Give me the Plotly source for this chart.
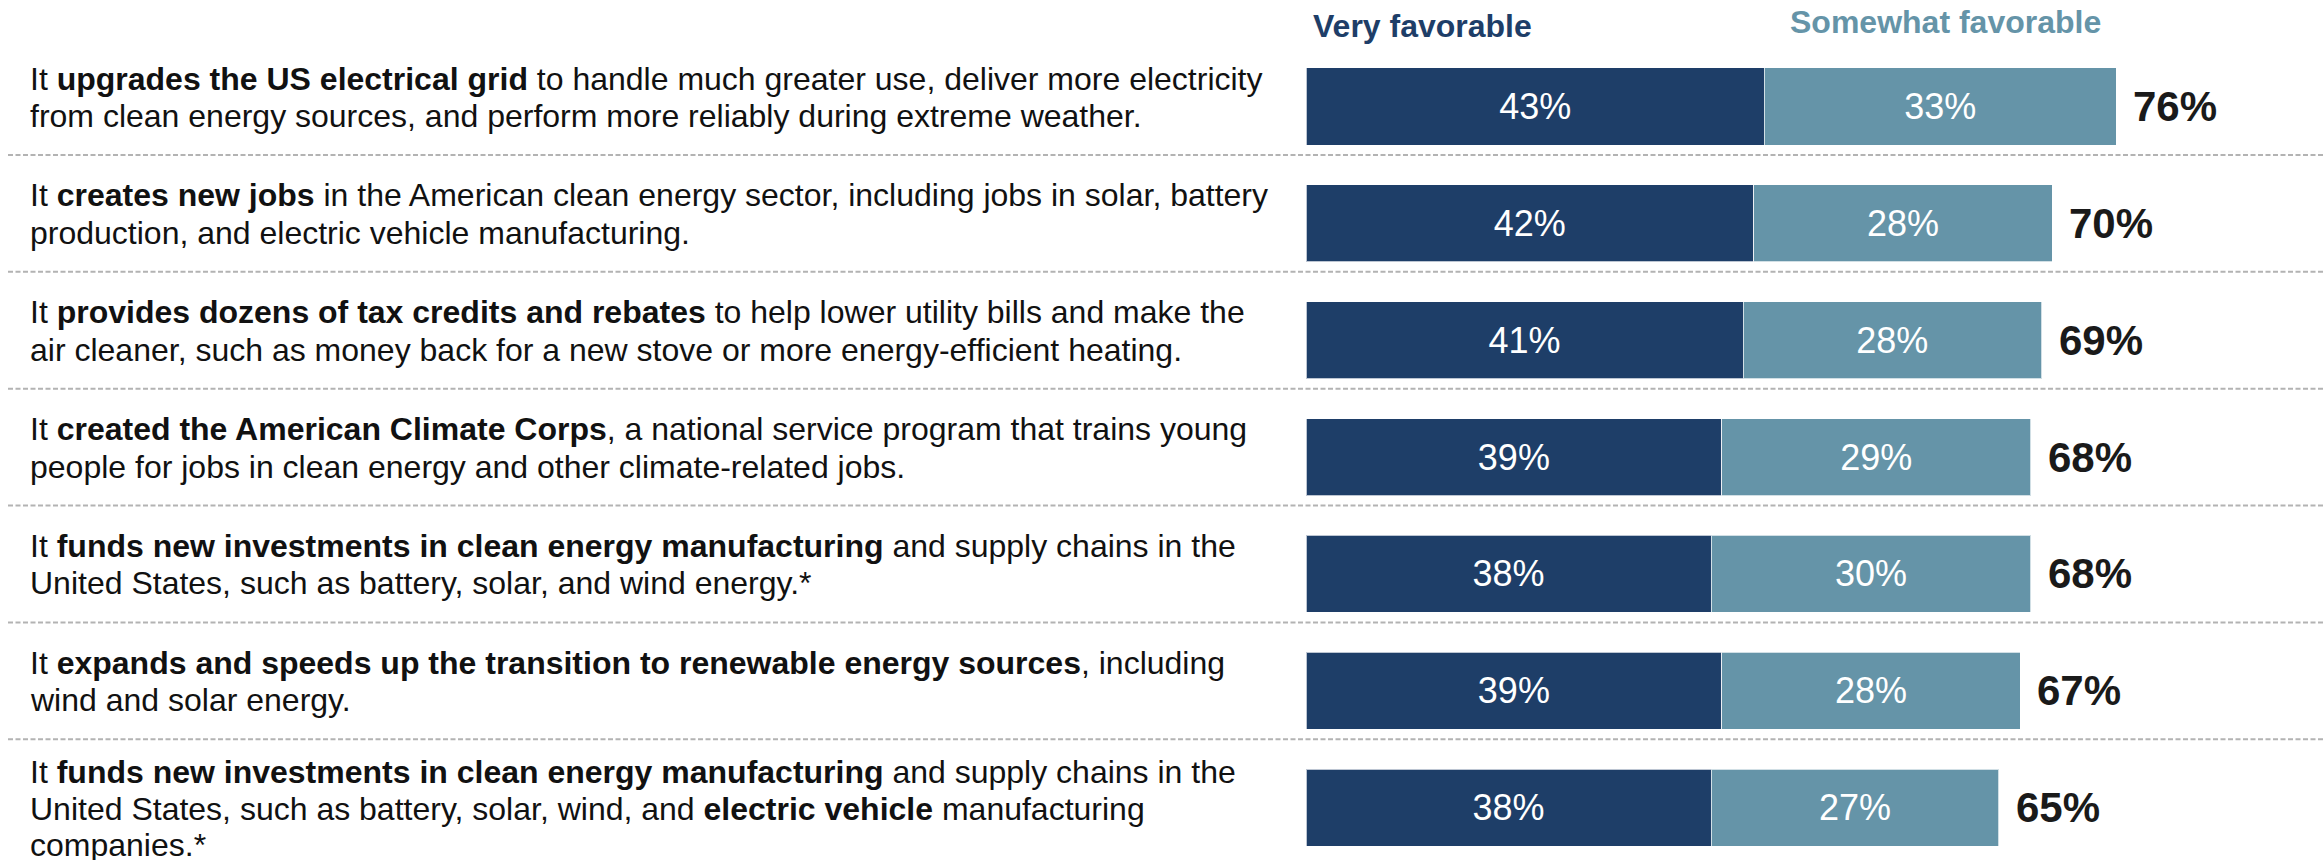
import plotly.graph_objects as go

# Statements (one string per rendered line) and favorability shares
statements = [
    ["It <b>upgrades the US electrical grid</b> to handle much greater use, deliver more electricity",
     "from clean energy sources, and perform more reliably during extreme weather."],
    ["It <b>creates new jobs</b> in the American clean energy sector, including jobs in solar, battery",
     "production, and electric vehicle manufacturing."],
    ["It <b>provides dozens of tax credits and rebates</b> to help lower utility bills and make the",
     "air cleaner, such as money back for a new stove or more energy-efficient heating."],
    ["It <b>created the American Climate Corps</b>, a national service program that trains young",
     "people for jobs in clean energy and other climate-related jobs."],
    ["It <b>funds new investments in clean energy manufacturing</b> and supply chains in the",
     "United States, such as battery, solar, and wind energy.*"],
    ["It <b>expands and speeds up the transition to renewable energy sources</b>, including",
     "wind and solar energy."],
    ["It <b>funds new investments in clean energy manufacturing</b> and supply chains in the",
     "United States, such as battery, solar, wind, and <b>electric vehicle</b> manufacturing",
     "companies.*"],
]
very_favorable = [43, 42, 41, 39, 38, 39, 38]
somewhat_favorable = [33, 28, 28, 29, 30, 28, 27]
series_names = ["Very favorable", "Somewhat favorable"]

totals = [v + s for v, s in zip(very_favorable, somewhat_favorable)]
rows = list(range(len(statements)))

W, H = 2323, 860
FONT = "Liberation Sans, Arial, Helvetica, sans-serif"
DARK = "#1e3e68"
LIGHT = "#6594a8"

fig = go.Figure()
fig.add_trace(go.Bar(
    y=rows, x=very_favorable, orientation="h", name=series_names[0],
    marker=dict(color=DARK, line=dict(color="rgba(255,255,255,0.7)", width=1)),
    width=0.659,
    text=[f"{v}%" for v in very_favorable], textposition="inside",
    insidetextanchor="middle", constraintext="none",
    textfont=dict(family=FONT, size=36, color="white"),
    hoverinfo="skip",
))
fig.add_trace(go.Bar(
    y=rows, x=somewhat_favorable, orientation="h", name=series_names[1],
    marker=dict(color=LIGHT, line=dict(color="rgba(255,255,255,0.7)", width=1)),
    width=0.659,
    text=[f"{v}%" for v in somewhat_favorable], textposition="inside",
    insidetextanchor="middle", constraintext="none",
    textfont=dict(family=FONT, size=36, color="white"),
    hoverinfo="skip",
))

annotations = []

# Totals to the right of each stacked bar
for r, t in zip(rows, totals):
    annotations.append(dict(
        x=t, y=r, xref="x", yref="y", text=f"<b>{t}%</b>", showarrow=False,
        xanchor="left", yanchor="middle", xshift=15,
        font=dict(family=FONT, size=42, color="#1a1a1a"),
    ))

# Statement text, one annotation per line
line_offsets = {2: [-28, 9.5], 3: [-36, 1, 37.5]}
for r, lines in zip(rows, statements):
    for line, off in zip(lines, line_offsets[len(lines)]):
        annotations.append(dict(
            x=28 / W, y=r, xref="paper", yref="y", text=line, showarrow=False,
            xanchor="left", yanchor="middle", yshift=-off,
            font=dict(family=FONT, size=32, color="#111111"),
        ))

# Column headers
annotations.append(dict(
    x=1311 / W, y=1 - 25.5 / H, xref="paper", yref="paper",
    text=f"<b>{series_names[0]}</b>", showarrow=False,
    xanchor="left", yanchor="middle", font=dict(family=FONT, size=32, color=DARK),
))
annotations.append(dict(
    x=1788 / W, y=1 - 21.5 / H, xref="paper", yref="paper",
    text=f"<b>{series_names[1]}</b>", showarrow=False,
    xanchor="left", yanchor="middle", font=dict(family=FONT, size=32, color=LIGHT),
))

# Dashed separators beneath each row except the last
shapes = []
for r in rows[:-1]:
    shapes.append(dict(
        type="line", xref="paper", yref="y", x0=8 / W, x1=1,
        y0=r + 0.415, y1=r + 0.415,
        line=dict(color="#b3b3b3", width=2, dash="5px,2.5px"),
    ))

px_per_pct = 10.66
bar_left = 1306
row_step = 116.87
first_center = 106.5

fig.update_layout(
    width=W, height=H,
    margin=dict(l=0, r=0, t=0, b=0),
    paper_bgcolor="white", plot_bgcolor="white",
    barmode="stack", showlegend=False,
    annotations=annotations, shapes=shapes,
    xaxis=dict(domain=[bar_left / W, 1], range=[0, (W - bar_left) / px_per_pct],
               visible=False, fixedrange=True),
    yaxis=dict(range=[(H - first_center) / row_step, -first_center / row_step],
               visible=False, fixedrange=True),
    font=dict(family=FONT),
)

fig.write_html("out.html", config={"displayModeBar": False})
